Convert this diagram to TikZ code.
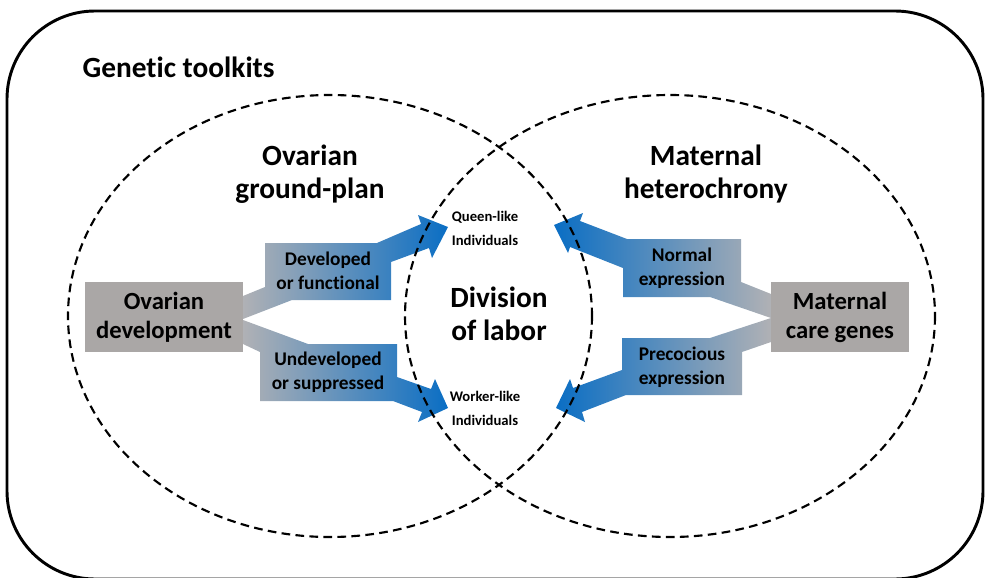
\documentclass[tikz,border=0pt]{standalone}
\usepackage{fontspec}
\setmainfont{Carlito}[Ligatures=NoCommon]
\usetikzlibrary{positioning}

\definecolor{boxgrey}{RGB}{170,167,166}
\definecolor{fadegrey}{RGB}{176,177,181}
\definecolor{tipblue}{RGB}{10,110,196}

\begin{document}
\begin{tikzpicture}[x=0.75pt, y=-0.75pt,
    greybox/.style={fill=boxgrey, inner sep=0pt, align=center, minimum height=52.5pt,
      font=\fontsize{18.5}{21.75}\selectfont\bfseries},
    heading/.style={align=center, font=\fontsize{22}{25}\selectfont\bfseries},
    steplabel/.style={align=center, inner sep=0pt, font=\fontsize{14.5}{18}\selectfont\bfseries},
    castelabel/.style={align=center, inner sep=0pt, font=\fontsize{11}{18}\selectfont\bfseries},
    toarrow/.style={left color=fadegrey, right color=tipblue},
    fromarrow/.style={left color=tipblue, right color=fadegrey},
    venn/.style={line width=1.6pt, dash pattern=on 6.5pt off 4pt}]
  \useasboundingbox (0,0) rectangle (985,578);
  \begin{scope}
    \clip (0,0) rectangle (985,578);
    \draw[line width=2.2pt, rounded corners=66pt] (7,11) rectangle (983,579);
  \end{scope}
  \node[anchor=west, font=\fontsize{22}{25}\selectfont\bfseries] (toolkit) at (78,67) {Genetic toolkits};

  % shaded arrows, label boxes included
  \shade[toarrow] (243,319) -- (292,300) -- (391,300) -- (391,262) -- (429,248) -- (432,258)
    -- (448,227) -- (418,215) -- (421,224) -- (377,243) -- (265,243) -- (265,287) -- (243,296) -- cycle;
  \shade[toarrow] (243,320) -- (308,344) -- (397,344) -- (397,377) -- (431,389) -- (435,379)
    -- (448,408) -- (418,422) -- (422,412) -- (393,401) -- (260,401) -- (260,352) -- (243,344) -- cycle;
  \shade[fromarrow] (771,294) -- (741,282) -- (741,239) -- (627,239) -- (580,221) -- (583,213)
    -- (554,225) -- (568,253) -- (570,247) -- (623,268) -- (623,297) -- (710,297) -- (771,318) -- cycle;
  \shade[fromarrow] (771,318) -- (710,338) -- (622,338) -- (622,370) -- (573,388) -- (570,379)
    -- (556,408) -- (585,422) -- (582,412) -- (626,395) -- (742,395) -- (742,352) -- (771,342) -- cycle;

  \draw[venn] (330,316) ellipse [x radius=262, y radius=221];
  \draw[venn] (670,316) ellipse [x radius=265, y radius=221];

  \node[greybox, minimum width=118.5pt] (ovdev) at (164,317) {Ovarian\\development};
  \node[greybox, minimum width=103.5pt] (caregenes) at (840,317) {Maternal\\care genes};

  \node[heading] (groundplan) at (310,174) {Ovarian\\ground-plan};
  \node[heading] (heterochrony) at (706,174) {Maternal\\heterochrony};
  \node[heading] (labor) at (499,314) {Division\\of labor};

  \node[steplabel] (developed) at (328,271) {Developed\\or functional};
  \node[steplabel] (undeveloped) at (328,372) {Undeveloped\\or suppressed};
  \node[steplabel] (normal) at (682,268) {Normal\\expression};
  \node[steplabel] (precocious) at (682,367) {Precocious\\expression};

  \node[castelabel] (queen) at (485,228) {Queen-like\\Individuals};
  \node[castelabel] (worker) at (485,408) {Worker-like\\Individuals};
\end{tikzpicture}
\end{document}
